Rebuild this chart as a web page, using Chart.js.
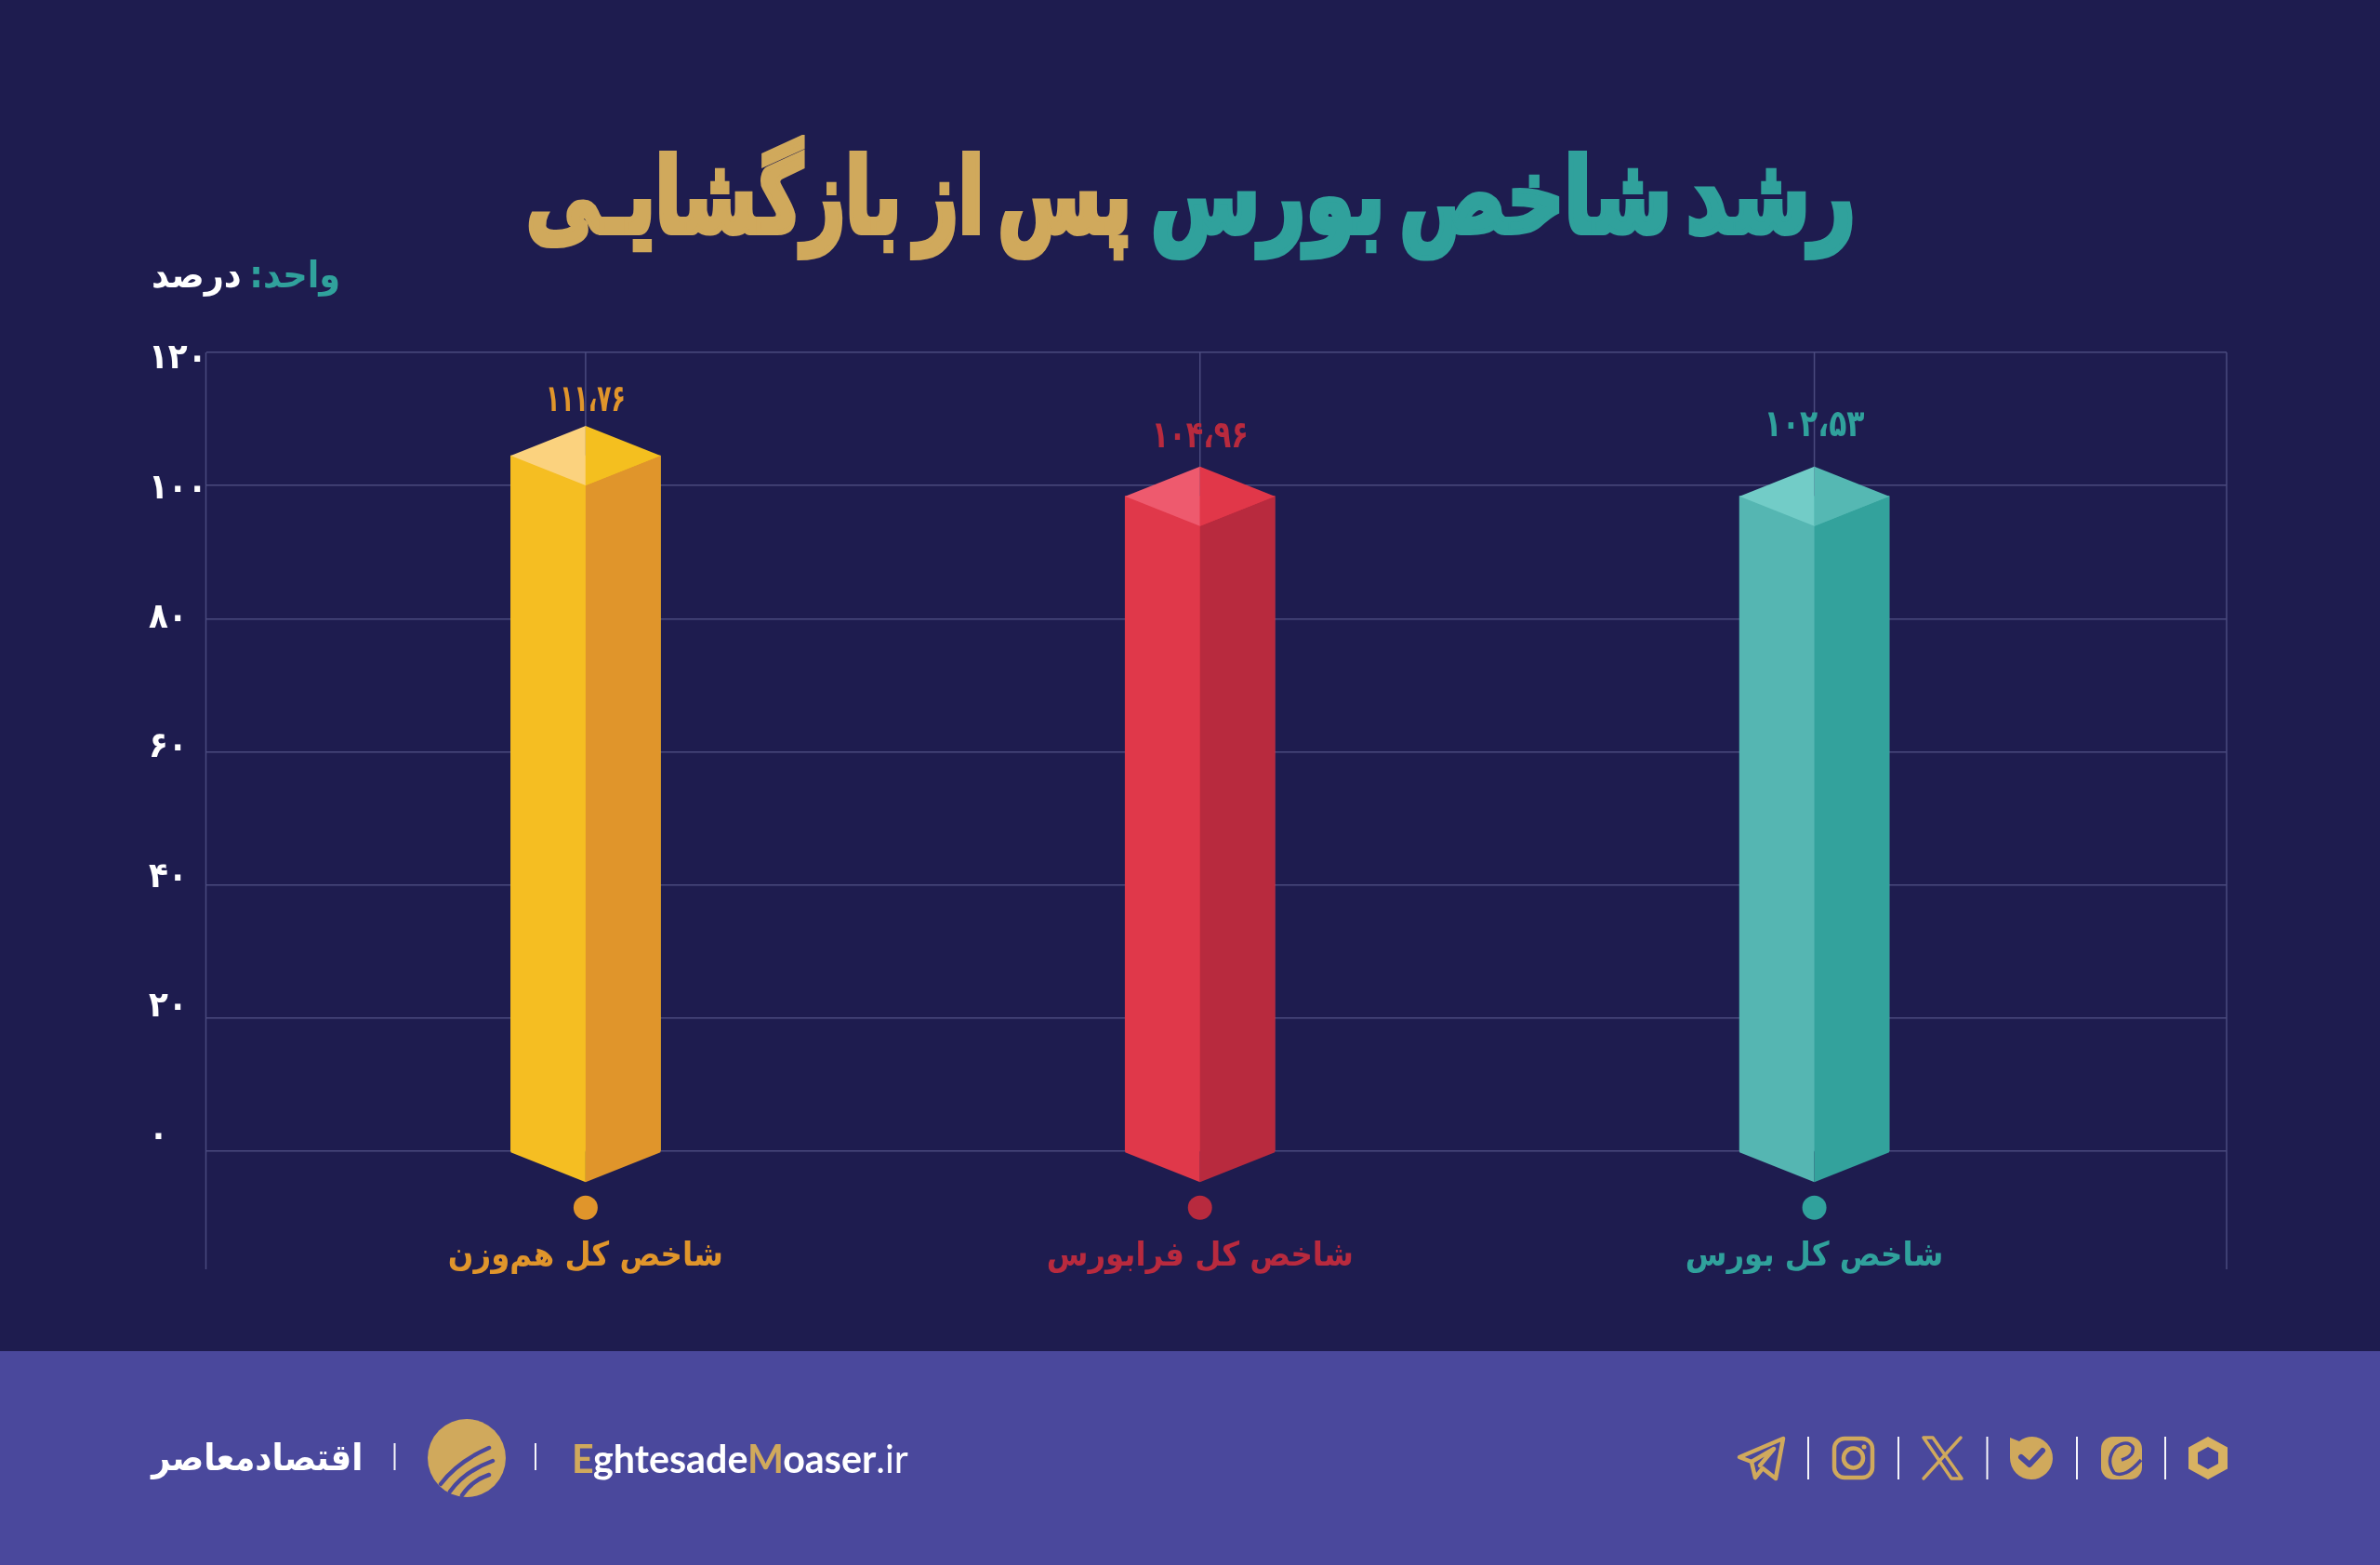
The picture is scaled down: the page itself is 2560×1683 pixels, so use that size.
<!DOCTYPE html>
<html lang="fa">
<head>
<meta charset="utf-8">
<title>رشد شاخص بورس پس از بازگشایی</title>
<script src="https://cdn.jsdelivr.net/npm/chart.js@4"></script>
<style>
  html,body{margin:0;padding:0;background:#1e1c4f;width:2560px;height:1683px;overflow:hidden}
  #stage{position:relative;width:2560px;height:1683px;background:#1e1c4f;overflow:hidden}
  #stage canvas{position:absolute;left:0;top:0}
  #footer{position:absolute;left:0;top:1453px;width:2560px;height:230px;background:#4a489c}
  .t{position:absolute;white-space:nowrap;line-height:1;font-family:"DejaVu Sans Condensed","DejaVu Sans",sans-serif}
  .hd{top:155px;direction:rtl;font-size:112px;font-weight:700;-webkit-text-stroke:6px currentColor;word-spacing:-16px}
  #t1{color:#30a19c;left:1238px}
  #t2{color:#d0a95c;left:566px}
  #unit{left:163px;top:275px;direction:rtl;font-size:40px;font-weight:700;word-spacing:-4px}
  #brandFa{left:163px;top:1547px;direction:rtl;font-size:40px;font-weight:700;color:#fff}
  #brandEn{left:615px;top:1547px;font-family:Lato,sans-serif;font-size:42px;font-weight:700;color:#fff}
  #brandEn i{font-style:normal;color:#d0a95c}
  #brandEn b{font-weight:400}
  #art{position:absolute;left:0;top:0}
</style>
</head>
<body>
<div id="stage">
  <div id="footer"></div>
  <canvas id="c" width="2560" height="1683"></canvas>
  <div id="t1" class="t hd" data-fit="758">رشد شاخص بورس</div>
  <div id="t2" class="t hd" data-fit="651">پس از بازگشایـی</div>
  <div id="unit" class="t" data-fit="203"><span style="color:#30a19c">واحد:</span> <span style="color:#fff">درصد</span></div>
  <div id="brandFa" class="t" data-fit="227">اقتصادمعاصر</div>
  <div id="brandEn" class="t" data-fit="362"><i>E</i>ghtesade<i>M</i>oaser<b>.ir</b></div>
  <svg id="art" width="2560" height="1683" viewBox="0 0 2560 1683">
    <g stroke="#fff" stroke-width="2" opacity=".95">
      <line x1="424.5" y1="1552" x2="424.5" y2="1581"/><line x1="576" y1="1552" x2="576" y2="1581"/>
      <line x1="1945" y1="1545" x2="1945" y2="1591"/><line x1="2042" y1="1545" x2="2042" y2="1591"/>
      <line x1="2137.5" y1="1545" x2="2137.5" y2="1591"/><line x1="2234" y1="1545" x2="2234" y2="1591"/>
      <line x1="2329" y1="1545" x2="2329" y2="1591"/>
    </g>
    <!-- brand logo -->
    <circle cx="502" cy="1568" r="42" fill="#d0a95c"/>
    <g fill="none" stroke="#4a489c" stroke-width="4.5" stroke-linecap="round">
      <path d="M474 1596 Q492 1572 526 1557"/><path d="M484 1604 Q500 1582 530 1571"/><path d="M497 1608 Q508 1592 526 1586"/>
    </g>
    <!-- social icons -->
    <g fill="none" stroke="#d0a95c" stroke-width="4.5" stroke-linejoin="round" stroke-linecap="round">
      <path d="M1871 1567 L1918 1547 L1910 1590 L1896 1579 L1888 1589 L1884 1572 Z"/><path d="M1884 1572 L1908 1558 L1893 1576"/>
      <rect x="1973" y="1547" width="41" height="42" rx="11"/><circle cx="1993.5" cy="1568" r="10.5"/>
      <path d="M2069 1546 L2079 1546 L2110 1590 L2099 1590 Z" stroke-width="3.5"/><path d="M2109 1546 L2069 1590" stroke-width="3.5"/>
    </g>
    <circle cx="2005" cy="1556" r="2.5" fill="#d0a95c"/>
    <path d="M2162 1546 L2172 1550 Q2178 1545 2186 1545 A23 23 0 1 1 2162 1568 Z" fill="#d0a95c"/>
    <path d="M2174 1567 L2183 1575 L2197 1560" fill="none" stroke="#4a489c" stroke-width="6" stroke-linecap="round" stroke-linejoin="round"/>
    <rect x="2260" y="1545" width="44" height="46" rx="13" fill="#d0a95c"/>
    <path d="M2303 1570 Q2286 1590 2274 1584 Q2264 1570 2276 1556 Q2288 1548 2294 1556 Q2296 1566 2282 1570" fill="none" stroke="#4a489c" stroke-width="3.5"/>
    <path d="M2375 1545 L2396 1556.5 L2396 1579.5 L2375 1591 L2354 1579.5 L2354 1556.5 Z M2375 1556 L2364 1562 L2364 1574 L2375 1580 L2386 1574 L2386 1562 Z" fill="#d8b262" fill-rule="evenodd"/>
  </svg>
</div>
<script>
// ---- data ----
const categories = ['شاخص کل هم‌وزن', 'شاخص کل فرابورس', 'شاخص کل بورس'];
const barHeights = [104.5, 98.4, 98.4];              // drawn height of the front edge, on the axis
const valueLabels = ['۱۱۱،۷۶', '۱۰۴،۹۶', '۱۰۲،۵۳'];  // printed values
const yTickValues = [0, 20, 40, 60, 80, 100, 120];
const yTickLabels = ['۰', '۲۰', '۴۰', '۶۰', '۸۰', '۱۰۰', '۱۲۰'];

// ---- styles ----
const FONT = '"DejaVu Sans Condensed","DejaVu Sans",sans-serif';
const labelColors = ['#e0952b', '#b82a3e', '#30a19c'];
const faces = [
  {left:'#f5be22', right:'#e0952b', topL:'#fbd27e', topR:'#f4bf1f'},
  {left:'#e0384a', right:'#b82a3e', topL:'#ee5a6e', topR:'#e13749'},
  {left:'#55b6b2', right:'#33a29c', topL:'#72ccc7', topR:'#55b8b3'}
];
const gridColor = '#4a4a7e';
const labelLift = [26, 31, 43];
const labelFit = [86, 104, 108];

// fit the page text to the width it has in the reference
document.querySelectorAll('[data-fit]').forEach(el => {
  el.style.transformOrigin = 'left top';
  el.style.transform = 'scaleX(' + (el.dataset.fit / el.offsetWidth) + ')';
});

function poly(ctx, pts, fill) {
  ctx.beginPath();
  pts.forEach((p, i) => i ? ctx.lineTo(p[0], p[1]) : ctx.moveTo(p[0], p[1]));
  ctx.closePath();
  ctx.fillStyle = fill;
  ctx.fill();
}

const backdrop = {
  id: 'backdrop',
  beforeDatasetsDraw(chart) {
    const {ctx, chartArea: a, scales: {x, y}} = chart;
    ctx.save();
    ctx.strokeStyle = gridColor;
    ctx.lineWidth = 1.5;
    [a.left, a.right].forEach(px => {
      ctx.beginPath(); ctx.moveTo(px, a.top); ctx.lineTo(px, a.bottom); ctx.stroke();
    });
    categories.forEach((_, i) => {
      const px = x.getPixelForValue(i);
      ctx.beginPath(); ctx.moveTo(px, a.top); ctx.lineTo(px, y.getPixelForValue(0)); ctx.stroke();
    });
    ctx.restore();
  }
};

const prism = {
  id: 'prism',
  afterDatasetsDraw(chart) {
    const {ctx} = chart;
    const rise = 32, drop = 34;
    chart.getDatasetMeta(0).data.forEach((bar, i) => {
      const cx = bar.x, half = bar.width / 2, top = bar.y, base = bar.base + 2, f = faces[i];
      const L = cx - half, R = cx + half;
      poly(ctx, [[L, top], [cx, top + rise], [cx, base + drop - 2], [L, base]], f.left);
      poly(ctx, [[R, top], [cx, top + rise], [cx, base + drop - 2], [R, base]], f.right);
      poly(ctx, [[L, top], [cx, top - rise], [cx, top + rise]], f.topL);
      poly(ctx, [[R, top], [cx, top - rise], [cx, top + rise]], f.topR);

      ctx.save();
      ctx.fillStyle = labelColors[i];
      ctx.beginPath();
      ctx.arc(cx, 1298.7, 13, 0, Math.PI * 2);
      ctx.fill();
      ctx.font = '700 40px ' + FONT;
      ctx.textAlign = 'center';
      ctx.textBaseline = 'middle';
      ctx.fillText(valueLabels[i], cx, top - rise - labelLift[i], labelFit[i]);
      ctx.restore();
    });
  }
};

const setTicks = scale => { scale.ticks = yTickValues.map(v => ({value: v})); };

new Chart(document.getElementById('c'), {
  type: 'bar',
  data: {
    datasets: [{
      data: barHeights.map((v, i) => ({x: i, y: v})),
      backgroundColor: faces.map(f => f.left),
      barThickness: 161,
      borderWidth: 0
    }]
  },
  plugins: [backdrop, prism],
  options: {
    responsive: false,
    devicePixelRatio: 1,
    animation: false,
    layout: {padding: {top: 379, right: 165, bottom: 318, left: 160}},
    plugins: {legend: {display: false}, tooltip: {enabled: false}, title: {display: false}},
    scales: {
      x: {
        type: 'linear',
        offset: false,
        min: -0.618,
        max: 2.671,
        afterBuildTicks: s => { s.ticks = categories.map((_, i) => ({value: i})); },
        afterFit: s => { s.height = 0; },
        border: {display: false},
        grid: {display: false, drawTicks: false},
        ticks: {
          autoSkip: false, maxRotation: 0, minRotation: 0,
          mirror: true,
          padding: -8,
          color: ctx => labelColors[ctx.index],
          font: {family: FONT, size: 36, weight: '700'},
          callback: v => categories[v]
        }
      },
      y: {
        position: 'left',
        min: -17.73,
        max: 120,
        afterBuildTicks: setTicks,
        afterFit: s => { s.width = 0; },
        border: {display: false},
        grid: {color: gridColor, lineWidth: 1.5, drawTicks: false},
        ticks: {display: false}
      },
      yLabels: {
        position: 'left',
        min: -20.44,
        max: 121.06,
        afterBuildTicks: setTicks,
        afterFit: s => { s.width = 61.5; },
        border: {display: false},
        grid: {display: false, drawTicks: false},
        ticks: {
          crossAlign: 'far',
          color: '#ffffff',
          font: {family: FONT, size: 38, weight: '700'},
          callback: v => yTickLabels[yTickValues.indexOf(v)]
        }
      }
    }
  }
});
</script>
</body>
</html>
